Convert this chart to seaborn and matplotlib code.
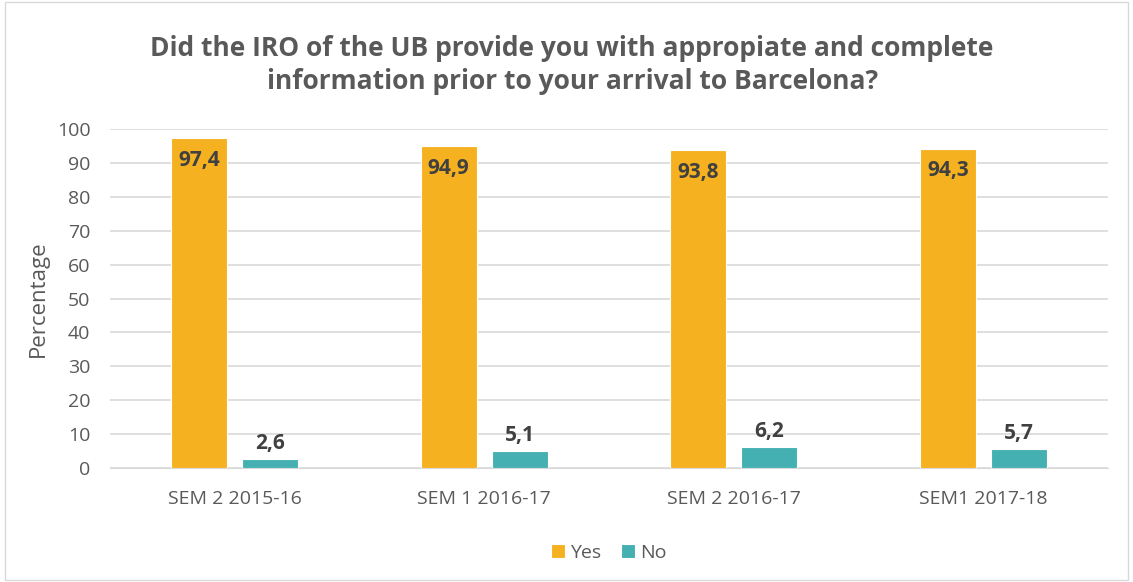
import pandas as pd
import matplotlib.pyplot as plt
import seaborn as sns

semesters = ['SEM 2 2015-16', 'SEM 1 2016-17', 'SEM 2 2016-17', 'SEM1 2017-18']
yes_vals = [97.4, 94.9, 93.8, 94.3]
no_vals = [2.6, 5.1, 6.2, 5.7]

df = pd.DataFrame({
    'Semester': semesters * 2,
    'Answer': ['Yes'] * 4 + ['No'] * 4,
    'Value': yes_vals + no_vals,
})

sns.set_style('white')
plt.rcParams['font.family'] = ['Open Sans', 'DejaVu Sans']
grey = '#595959'

fig = plt.figure(figsize=(11.33, 5.82), dpi=100)
ax = fig.add_axes([0.097, 0.196, 0.881, 0.582])
sns.barplot(data=df, x='Semester', y='Value', hue='Answer',
            palette={'Yes': '#F5B120', 'No': '#45B0B2'}, saturation=1,
            width=0.57, gap=0.21, ax=ax, zorder=3, edgecolor='white', linewidth=0.8)

ax.set_ylim(0, 100)
ax.set_yticks(range(0, 101, 10))
ax.yaxis.grid(True, color='#D9D9D9', linewidth=1.2, zorder=0)
for s in ['top', 'right', 'left']:
    ax.spines[s].set_visible(False)
ax.spines['bottom'].set_color('#D9D9D9')
ax.tick_params(axis='both', colors=grey, labelsize=14, length=0)
ax.tick_params(axis='y', pad=14)
ax.tick_params(axis='x', pad=16)
ax.set_xlabel(None)
ax.set_ylabel('Percentage', fontsize=16, color=grey, labelpad=6)

yes_bars, no_bars = ax.containers[0], ax.containers[1]
for bar, v in zip(yes_bars, yes_vals):
    ax.text(bar.get_x() + bar.get_width() / 2, v - 3.5, f'{v:.1f}'.replace('.', ','),
            ha='center', va='top', fontsize=15, fontweight='bold', color='#404040', zorder=4)
for bar, v in zip(no_bars, no_vals):
    ax.text(bar.get_x() + bar.get_width() / 2, v + 1.5, f'{v:.1f}'.replace('.', ','),
            ha='center', va='bottom', fontsize=15, fontweight='bold', color='#404040', zorder=4)

fig.suptitle('Did the IRO of the UB provide you with appropiate and complete\ninformation prior to your arrival to Barcelona?',
             x=0.505, y=0.94, fontsize=19, fontweight='bold', color=grey, linespacing=1.3)

leg = ax.legend(loc='upper center', bbox_to_anchor=(0.5, -0.172), ncol=2, frameon=False,
                fontsize=14, handlelength=0.7, handleheight=0.7, handletextpad=0.3, columnspacing=1.0)
for t in leg.get_texts():
    t.set_color(grey)

fig.patches.append(plt.Rectangle((0.004, 0.004), 0.992, 0.992, transform=fig.transFigure,
                                 fill=False, edgecolor='#D9D9D9', linewidth=1))

fig.savefig('out.png', dpi=100)
